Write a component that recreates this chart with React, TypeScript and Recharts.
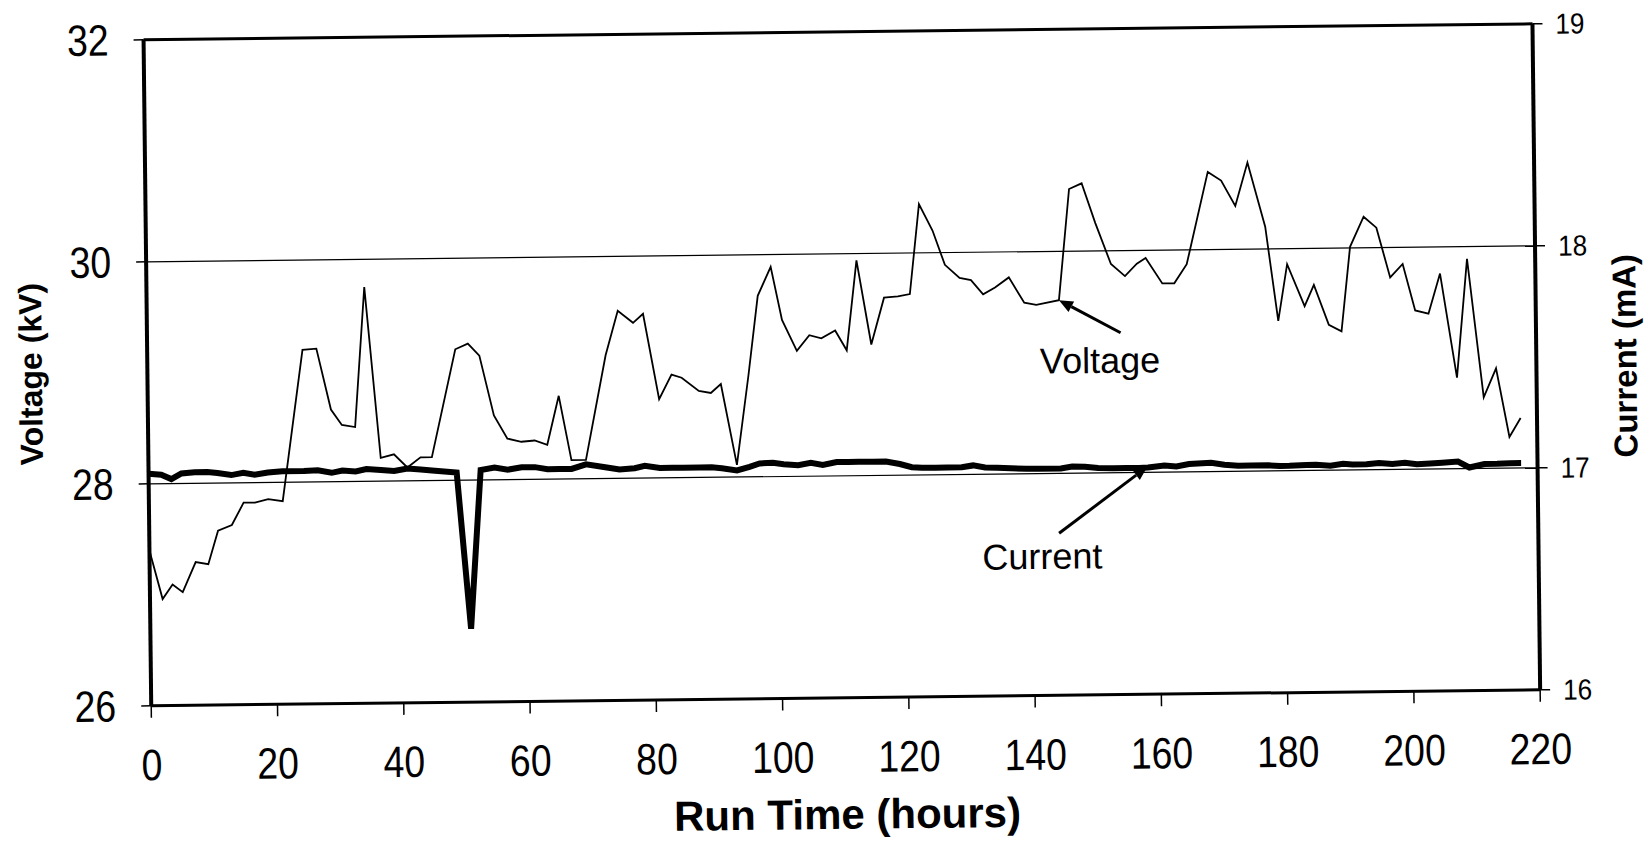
import {
  CartesianGrid,
  Line,
  LineChart,
  ReferenceDot,
  ReferenceLine,
  XAxis,
  YAxis,
} from "recharts";

// run time of each reading (hours)
const hours = [
  0, 2.0, 3.6, 5.2, 7.3, 9.3, 10.9, 13.1, 15.0, 16.8,
  18.9, 21.2, 24.6, 26.8, 29.0, 30.7, 32.8, 34.5, 36.8, 38.9,
  41.0, 43.1, 44.9, 48.8, 50.8, 52.6, 54.8, 56.9, 59.1, 61.2,
  63.2, 65.1, 67.0, 69.3, 72.6, 74.6, 77.0, 78.6, 81.0, 83.0,
  84.6, 87.3, 89.2, 90.8, 93.2, 95.2, 96.8, 98.9, 100.6, 102.9,
  104.9, 106.8, 109.0, 110.8, 112.5, 114.7, 116.8, 119.0, 120.9, 122.5,
  124.6, 126.5, 128.8, 130.6, 132.5, 134.4, 136.6, 139.0, 140.9, 144.5,
  146.3, 148.3, 150.4, 152.8, 155.0, 156.9, 158.3, 160.9, 162.8, 164.8,
  168.3, 170.4, 172.6, 174.6, 177.3, 179.2, 180.7, 183.4, 184.9, 187.2,
  189.2, 190.7, 192.9, 194.9, 197.0, 199.0, 200.9, 203.0, 204.9, 207.4,
  209.2, 211.6, 213.6, 215.6, 217.4,
];

// kV
const voltage = [
  27.40, 26.96, 27.09, 27.02, 27.29, 27.27, 27.57, 27.62, 27.82, 27.82,
  27.85, 27.83, 29.19, 29.20, 28.65, 28.51, 28.49, 29.75, 28.21, 28.24,
  28.12, 28.21, 28.21, 29.18, 29.23, 29.12, 28.58, 28.37, 28.34, 28.35,
  28.31, 28.75, 28.17, 28.17, 29.11, 29.51, 29.40, 29.48, 28.71, 28.93,
  28.90, 28.78, 28.76, 28.84, 28.11, 28.92, 29.63, 29.89, 29.41, 29.13,
  29.27, 29.24, 29.31, 29.13, 29.94, 29.18, 29.60, 29.61, 29.63, 30.44,
  30.20, 29.89, 29.77, 29.75, 29.62, 29.68, 29.77, 29.54, 29.52, 29.56,
  30.56, 30.61, 30.25, 29.88, 29.77, 29.88, 29.93, 29.70, 29.70, 29.87,
  30.70, 30.62, 30.39, 30.78, 30.20, 29.35, 29.86, 29.48, 29.67, 29.31,
  29.25, 30.01, 30.28, 30.18, 29.73, 29.85, 29.43, 29.40, 29.76, 28.82,
  29.89, 28.64, 28.90, 28.28, 28.45,
];

// mA
const current = [
  17.045, 17.04, 17.02, 17.045, 17.05, 17.05, 17.045, 17.035, 17.045, 17.035,
  17.045, 17.05, 17.05, 17.052, 17.04, 17.05, 17.045, 17.055, 17.05, 17.045,
  17.055, 17.05, 17.045, 17.035, 16.33, 17.045, 17.055, 17.045, 17.055, 17.055,
  17.045, 17.045, 17.045, 17.065, 17.05, 17.04, 17.045, 17.055, 17.045, 17.045,
  17.045, 17.045, 17.045, 17.04, 17.03, 17.045, 17.06, 17.062, 17.055, 17.05,
  17.06, 17.05, 17.062, 17.062, 17.062, 17.062, 17.062, 17.05, 17.035, 17.032,
  17.032, 17.032, 17.032, 17.04, 17.03, 17.028, 17.025, 17.022, 17.022, 17.022,
  17.03, 17.028, 17.022, 17.02, 17.02, 17.02, 17.022, 17.03, 17.025, 17.035,
  17.04, 17.03, 17.025, 17.025, 17.025, 17.022, 17.022, 17.025, 17.025, 17.02,
  17.028, 17.025, 17.025, 17.03, 17.025, 17.03, 17.022, 17.025, 17.028, 17.032,
  17.005, 17.02, 17.02, 17.022, 17.022,
];

const xTicks = [0, 20, 40, 60, 80, 100, 120, 140, 160, 180, 200, 220];
const voltTicks = [26, 28, 30, 32];
const currTicks = [16, 17, 18, 19];

const data = hours.map((h, i) => ({ h, v: voltage[i], c: current[i] }));

const FONT = "'Liberation Sans', Arial, sans-serif";

function Tick(props: any) {
  const { x, y, payload, textAnchor, fs, sx, dy } = props;
  return (
    <g transform={`translate(${x},${y})`}>
      <text
        transform={`scale(${sx},1)`}
        textAnchor={textAnchor}
        dy={dy}
        fontSize={fs}
        fontFamily={FONT}
        fill="#000"
      >
        {payload.value}
      </text>
    </g>
  );
}

function Arrow(props: any) {
  const { x1, y1, x2, y2 } = props;
  const a = Math.atan2(y2 - y1, x2 - x1);
  const L = 14;
  const W = 6;
  const bx = x2 - L * Math.cos(a);
  const by = y2 - L * Math.sin(a);
  const px = -Math.sin(a) * W;
  const py = Math.cos(a) * W;
  return (
    <g>
      <line x1={x1} y1={y1} x2={bx} y2={by} stroke="#000" strokeWidth={3} />
      <polygon
        points={`${x2},${y2} ${bx + px},${by + py} ${bx - px},${by - py}`}
        fill="#000"
      />
    </g>
  );
}

const note = (label: string) => (p: any) => (
  <text
    x={p.cx}
    y={p.cy}
    textAnchor="middle"
    fontSize={36}
    fontFamily={FONT}
    fill="#000"
  >
    {label}
  </text>
);

export default function App() {
  return (
    <div
      style={{
        position: "absolute",
        left: 0,
        top: 0,
        width: 1650,
        height: 843,
        background: "#fff",
        fontFamily: FONT,
        // the scanned original sits slightly askew
        transform: "rotate(-0.66deg)",
        transformOrigin: "825px 421px",
      }}
    >
      <LineChart
        width={1650}
        height={843}
        data={data}
        margin={{ top: 32, right: 53, bottom: 45, left: 48 }}
      >
        <CartesianGrid
          yAxisId="v"
          vertical={false}
          stroke="#000"
          strokeWidth={1.2}
        />
        <XAxis
          dataKey="h"
          type="number"
          domain={[0, 220]}
          ticks={xTicks}
          height={100}
          axisLine={{ stroke: "#000", strokeWidth: 3 }}
          tickLine={{ stroke: "#000", strokeWidth: 1.5 }}
          tickSize={12}
          tickMargin={31}
          tick={<Tick fs={44} sx={0.85} dy="0.71em" />}
        />
        <YAxis
          yAxisId="v"
          domain={[26, 32]}
          ticks={voltTicks}
          width={100}
          axisLine={{ stroke: "#000", strokeWidth: 4 }}
          tickLine={{ stroke: "#000", strokeWidth: 1.5 }}
          tickSize={10}
          tickMargin={25}
          tick={<Tick fs={44} sx={0.85} dy="0.35em" />}
        />
        <YAxis
          yAxisId="c"
          orientation="right"
          domain={[16, 19]}
          ticks={currTicks}
          width={60}
          axisLine={{ stroke: "#000", strokeWidth: 4 }}
          tickLine={{ stroke: "#000", strokeWidth: 1.5 }}
          tickSize={10}
          tickMargin={13}
          tick={<Tick fs={29} sx={0.9} dy="0.35em" />}
        />
        <ReferenceLine yAxisId="v" y={32} stroke="#000" strokeWidth={3} />
        <Line
          yAxisId="v"
          dataKey="v"
          type="linear"
          stroke="#000"
          strokeWidth={1.8}
          dot={false}
          isAnimationActive={false}
        />
        <Line
          yAxisId="c"
          dataKey="c"
          type="linear"
          stroke="#000"
          strokeWidth={6}
          dot={false}
          isAnimationActive={false}
        />
        <ReferenceLine
          yAxisId="v"
          segment={[
            { x: 154.2, y: 29.26 },
            { x: 144.5, y: 29.56 },
          ]}
          shape={Arrow}
        />
        <ReferenceLine
          yAxisId="v"
          segment={[
            { x: 144.1, y: 27.46 },
            { x: 158.2, y: 28.05 },
          ]}
          shape={Arrow}
        />
        <ReferenceDot yAxisId="v" x={150.9} y={28.9} r={0} shape={note("Voltage")} />
        <ReferenceDot yAxisId="v" x={141.4} y={27.14} r={0} shape={note("Current")} />
      </LineChart>
      <div
        style={{
          position: "absolute",
          left: 32,
          top: 365,
          transform: "translate(-50%,-50%) rotate(-90deg)",
          fontWeight: "bold",
          fontSize: 32,
          whiteSpace: "nowrap",
        }}
      >
        Voltage (kV)
      </div>
      <div
        style={{
          position: "absolute",
          left: 1626,
          top: 365,
          transform: "translate(-50%,-50%) rotate(-90deg)",
          fontWeight: "bold",
          fontSize: 33,
          whiteSpace: "nowrap",
        }}
      >
        Current (mA)
      </div>
      <div
        style={{
          position: "absolute",
          left: 843,
          top: 815,
          transform: "translate(-50%,-50%)",
          fontWeight: "bold",
          fontSize: 42,
          whiteSpace: "nowrap",
        }}
      >
        Run Time (hours)
      </div>
    </div>
  );
}
